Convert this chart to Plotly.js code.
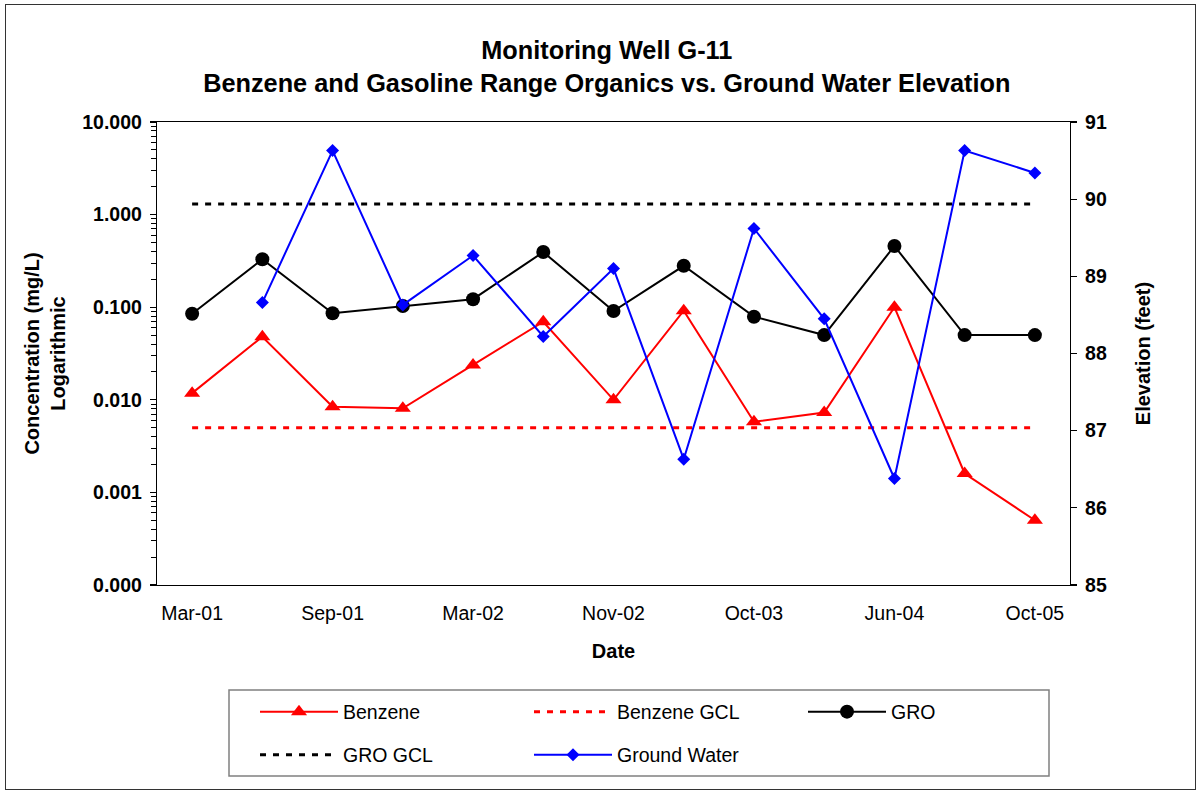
<!DOCTYPE html>
<html>
<head>
<meta charset="utf-8">
<script src="https://cdn.plot.ly/plotly-3.0.1.min.js"></script>
<style>
  html, body { margin: 0; padding: 0; background: #fff; }
  #wrap { position: relative; width: 1204px; height: 794px; }
  #chart { width: 1204px; height: 794px; }
  #frame { position: absolute; left: 5px; top: 4px; width: 1189px; height: 784px; border: 1px solid #333; pointer-events: none; }
</style>
</head>
<body>
<div id="wrap"><div id="chart"></div><div id="frame"></div></div>
<script>
// Sampling dates (only every other label is printed on the axis)
const dateLabels = ['Mar-01', '', 'Sep-01', '', 'Mar-02', '', 'Nov-02', '', 'Oct-03', '', 'Jun-04', '', 'Oct-05'];

// Concentrations (mg/L), left log axis
const benzene    = [0.0118, 0.048, 0.0084, 0.0081, 0.0238, 0.0697, 0.0100, 0.0917, 0.0058, 0.0073, 0.100, 0.0016, 0.00050];
const benzeneGCL = [0.005, 0.005, 0.005, 0.005, 0.005, 0.005, 0.005, 0.005, 0.005, 0.005, 0.005, 0.005, 0.005];
const gro        = [0.085, 0.329, 0.086, 0.103, 0.122, 0.394, 0.091, 0.280, 0.079, 0.050, 0.458, 0.050, 0.050];
const groGCL     = [1.3, 1.3, 1.3, 1.3, 1.3, 1.3, 1.3, 1.3, 1.3, 1.3, 1.3, 1.3, 1.3];

// Ground water elevation (feet), right axis
const groundWater = [null, 88.66, 90.63, 88.63, 89.27, 88.22, 89.10, 86.63, 89.62, 88.45, 86.38, 90.63, 90.34];

// Axis tick labels
const concTickVals = [0.0001, 0.001, 0.01, 0.1, 1, 10];
const concTickText = ['0.000', '0.001', '0.010', '0.100', '1.000', '10.000'];
const elevTickVals = [85, 86, 87, 88, 89, 90, 91];

const xIdx = dateLabels.map((_, i) => i);
const labelIdx = xIdx.filter(i => dateLabels[i] !== '');
const labelText = labelIdx.map(i => dateLabels[i]);
const boundaries = xIdx.map(i => i - 0.5).concat([xIdx.length - 0.5]);
const xRange = [-0.5, xIdx.length - 0.5];

const FONT = 'Liberation Sans, Arial, sans-serif';
const tickFontBold = { family: FONT, size: 19.5, color: '#000', weight: 'bold' };
const dash = '6px,7px';

const traces = [
  { name: 'Benzene', x: xIdx, y: benzene, type: 'scatter', mode: 'lines+markers',
    line: { color: '#FF0000', width: 2 }, marker: { symbol: 'triangle-up', size: 14, color: '#FF0000' },
    legend: 'legend' },
  { name: 'Benzene GCL', x: xIdx, y: benzeneGCL, type: 'scatter', mode: 'lines',
    line: { color: '#FF0000', width: 3, dash: dash }, legend: 'legend' },
  { name: 'GRO', x: xIdx, y: gro, type: 'scatter', mode: 'lines+markers',
    line: { color: '#000000', width: 2 }, marker: { symbol: 'circle', size: 14, color: '#000000' },
    legend: 'legend' },
  { name: 'GRO GCL', x: xIdx, y: groGCL, type: 'scatter', mode: 'lines',
    line: { color: '#000000', width: 3, dash: dash }, legend: 'legend2' },
  { name: 'Ground Water', x: xIdx, y: groundWater, type: 'scatter', mode: 'lines+markers', yaxis: 'y2',
    line: { color: '#0000FF', width: 2 }, marker: { symbol: 'diamond', size: 10, color: '#0000FF' },
    connectgaps: false, legend: 'legend2' }
];

const legendCommon = {
  orientation: 'h', xref: 'paper', yref: 'paper', x: (255 - 157) / 913, xanchor: 'left', yanchor: 'middle',
  entrywidth: 181, entrywidthmode: 'pixels', itemwidth: 78, bgcolor: 'rgba(0,0,0,0)',
  borderwidth: 0, font: { family: FONT, size: 19.5, color: '#000' }, traceorder: 'normal'
};

const layout = {
  width: 1204, height: 794,
  paper_bgcolor: '#ffffff', plot_bgcolor: '#ffffff',
  margin: { l: 157, r: 134, t: 122, b: 209, pad: 0 },
  font: { family: FONT, color: '#000' },
  showlegend: true,
  title: {
    text: 'Monitoring Well G-11<br>Benzene and Gasoline Range Organics vs. Ground Water Elevation',
    font: { family: FONT, size: 25.3, color: '#000', weight: 'bold' },
    xref: 'container', x: 0.504, xanchor: 'center', yref: 'container', y: 1 - 59 / 794, yanchor: 'top'
  },
  xaxis: {
    range: xRange, tickmode: 'array', tickvals: labelIdx, ticktext: labelText,
    ticks: '', showgrid: false, zeroline: false, showline: true, linecolor: '#000', linewidth: 1.2,
    mirror: true, tickfont: { family: FONT, size: 19.5, color: '#000' }, ticklabelstandoff: 10,
    title: { text: 'Date', font: { family: FONT, size: 20, color: '#000', weight: 'bold' }, standoff: 21 }
  },
  xaxis2: {
    overlaying: 'x', anchor: 'y', range: xRange, tickmode: 'array', tickvals: boundaries,
    ticks: 'outside', ticklen: 6, tickcolor: '#000', tickwidth: 1.2, showticklabels: false,
    showgrid: false, zeroline: false, showline: false
  },
  xaxis3: {
    overlaying: 'x', anchor: 'y', range: xRange, tickmode: 'array', tickvals: boundaries,
    ticks: 'inside', ticklen: 5, tickcolor: '#000', tickwidth: 1.2, showticklabels: false,
    showgrid: false, zeroline: false, showline: false
  },
  yaxis: {
    type: 'log', range: [-4, 1], tickmode: 'array', tickvals: concTickVals, ticktext: concTickText,
    ticks: 'outside', ticklen: 6, tickcolor: '#000', tickwidth: 1.2,
    minor: { tickmode: 'linear', dtick: 'D1', ticks: 'outside', ticklen: 5, tickcolor: '#000', tickwidth: 1, showgrid: false },
    showgrid: false, zeroline: false, showline: true, linecolor: '#000', linewidth: 1.2,
    tickfont: tickFontBold, ticklabelstandoff: 4,
    title: { text: 'Concentration (mg/L)<br>Logarithmic', font: { family: FONT, size: 20, color: '#000', weight: 'bold' }, standoff: 11 }
  },
  yaxis3: {
    overlaying: 'y', anchor: 'x', type: 'log', range: [-4, 1], tickmode: 'array', tickvals: concTickVals,
    ticks: 'inside', ticklen: 6, tickcolor: '#000', tickwidth: 1.2, showticklabels: false,
    showgrid: false, zeroline: false, showline: false
  },
  yaxis2: {
    overlaying: 'y', side: 'right', anchor: 'x', range: [85, 91], tickmode: 'array', tickvals: elevTickVals,
    ticks: 'outside', ticklen: 6, tickcolor: '#000', tickwidth: 1.2,
    showgrid: false, zeroline: false, showline: true, linecolor: '#000', linewidth: 1.2,
    tickfont: tickFontBold, ticklabelstandoff: 4,
    title: { text: 'Elevation (feet)', font: { family: FONT, size: 20, color: '#000', weight: 'bold' }, standoff: 30 }
  },
  yaxis4: {
    overlaying: 'y', side: 'right', anchor: 'x', range: [85, 91], tickmode: 'array', tickvals: elevTickVals,
    ticks: 'inside', ticklen: 6, tickcolor: '#000', tickwidth: 1.2, showticklabels: false,
    showgrid: false, zeroline: false, showline: false
  },
  legend: Object.assign({}, legendCommon, { y: (585 - 712) / 463 }),
  legend2: Object.assign({}, legendCommon, { y: (585 - 755) / 463 }),
  shapes: [
    { type: 'rect', xref: 'paper', yref: 'paper', x0: (229 - 157) / 913, x1: (1049 - 157) / 913,
      y0: (585 - 690) / 463, y1: (585 - 776) / 463, line: { color: '#808080', width: 1.5 }, fillcolor: 'rgba(0,0,0,0)' }
  ]
};

Plotly.newPlot('chart', traces, layout, { displayModeBar: false, staticPlot: true });
</script>
</body>
</html>
